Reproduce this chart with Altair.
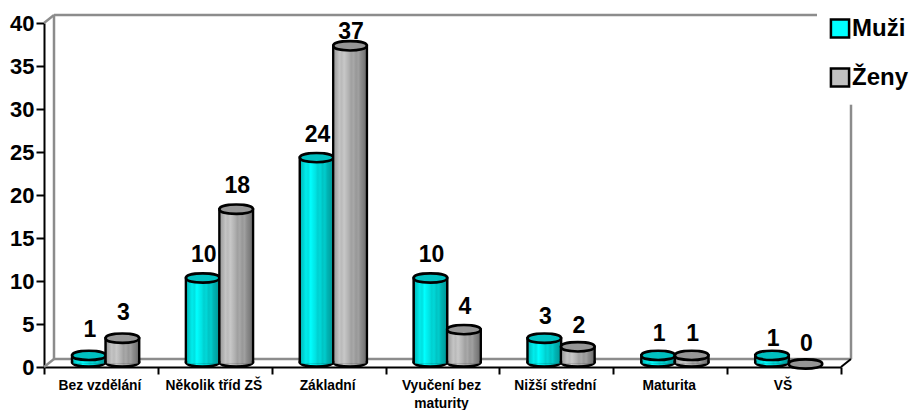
import altair as alt
import pandas as pd

categories = ["Bez vzdělání", "Několik tříd ZŠ", "Základní", "Vyučení bez maturity",
              "Nižší střední", "Maturita", "VŠ"]
muzi = [1, 10, 24, 10, 3, 1, 1]
zeny = [3, 18, 37, 4, 2, 1, 0]
series = ["Muži", "Ženy"]
legend_colors = ["#00FFFF", "#C0C0C0"]
top_colors = ["#00C0C0", "#969696"]
cyan_stops = ["#00C0C0", "#00D4D4", "#00ECEC", "#00E0E0", "#00FFFF", "#00F0F0", "#00E4E4",
              "#00D0D0", "#00D8D8", "#00C4C4", "#00CCCC", "#00B4B4", "#00A8A8", "#009C9C"]
gray_stops = ["#A0A0A0", "#B0B0B0", "#C4C4C4", "#BABABA", "#C8C8C8", "#BCBCBC", "#B0B0B0",
              "#A0A0A0", "#A8A8A8", "#989898", "#A0A0A0", "#8C8C8C", "#808080", "#707070"]

W, H = 797, 344
df = pd.DataFrame(
    [{"cat": c, "series": "Muži", "v": m} for c, m in zip(categories, muzi)]
    + [{"cat": c, "series": "Ženy", "v": z} for c, z in zip(categories, zeny)]
)


def grad(cols):
    n = len(cols) - 1
    return alt.Gradient(
        gradient="linear", x1=0, x2=1, y1=0, y2=0,
        stops=[alt.GradientStop(offset=i / n, color=c) for i, c in enumerate(cols)],
    )


ELLIPSE = "M-1,0 C-1,-0.37 1,-0.37 1,0 C1,0.37 -1,0.37 -1,0 Z"
ESIZE = 33.5 ** 2
TOP = -3
BASE = -5
STROKE = 2.6

yscale = alt.Scale(domain=[0, 40], nice=False, zero=False)
y_axis = alt.Axis(
    values=list(range(0, 41, 5)), labelFontSize=22, labelFont="Liberation Sans",
    labelFontWeight="bold", labelColor="#000000", tickColor="#000000", domainColor="#000000",
    domainWidth=2, tickWidth=2, tickSize=8, labelPadding=2, grid=False,
)
x_enc = alt.X(
    "cat:N", sort=categories, title=None,
    scale=alt.Scale(paddingInner=0, paddingOuter=0),
    axis=alt.Axis(
        tickBand="extent", labelAngle=0, labelFontSize=13.8, labelFont="Liberation Sans",
        labelFontWeight="bold", labelColor="#000000", tickColor="#000000", domainColor="#000000",
        domainWidth=2, tickWidth=2, tickSize=7, labelPadding=4, grid=False, labelLimit=200,
        labelLineHeight=18, labelOffset=-1.5,
        labelExpr="datum.value == 'Vyučení bez maturity' ? ['Vyučení bez', 'maturity'] : datum.label",
    ),
)
off_enc = alt.XOffset(
    "series:N", sort=series,
    scale=alt.Scale(domain=series, paddingInner=0, paddingOuter=0.7, align=0.6),
)
y_enc = alt.Y("v:Q", title=None, scale=yscale, axis=y_axis)

base = alt.Chart(df).transform_calculate(b="0")
layers = []

# back wall
WALL = "#8C8C8C"
WS = 2.5
wall = alt.Chart(pd.DataFrame({"top": [40], "bot": [0], "top3d": [40.93], "bot3d": [0.93], "cut": [30.5]}))
y_top = alt.Y("top:Q", title=None, scale=yscale, axis=y_axis)
y_bot = alt.Y("bot:Q", title=None, scale=yscale, axis=y_axis)
y_top3d = alt.Y("top3d:Q", title=None, scale=yscale, axis=y_axis)
y_cut = alt.Y("cut:Q", title=None, scale=yscale, axis=y_axis)
layers += [
    wall.mark_rule(color=WALL, strokeWidth=WS, yOffset=-8).encode(
        x=alt.value(10), x2=alt.value(773), y=y_top),
    wall.mark_rule(color=WALL, strokeWidth=WS, yOffset=-8).encode(
        x=alt.value(10), x2=alt.value(W + 10), y=y_bot),
    wall.mark_rule(color=WALL, strokeWidth=WS).encode(
        x=alt.value(10), y=y_top3d, y2="bot3d:Q"),
    wall.mark_rule(color=WALL, strokeWidth=WS).encode(
        x=alt.value(W + 10), y=y_cut, y2="bot3d:Q"),
    wall.mark_rule(color=WALL, strokeWidth=WS).encode(
        x=alt.value(0), x2=alt.value(10), y=y_bot, y2="bot3d:Q"),
    wall.mark_rule(color=WALL, strokeWidth=WS).encode(
        x=alt.value(0), x2=alt.value(10), y=y_top, y2="top3d:Q"),
    wall.mark_rule(color="#000000", strokeWidth=2).encode(
        x=alt.value(W), x2=alt.value(W + 10), y=y_bot, y2="bot3d:Q"),
]

# cylinders
for s, stops, tc in zip(series, [cyan_stops, gray_stops], top_colors):
    g = grad(stops)
    flt = f"datum.series == '{s}'"
    d = base.transform_filter(flt)
    tall = d.transform_filter("datum.v > 0")
    layers += [
        tall.mark_point(
            shape=ELLIPSE, size=ESIZE, filled=True, fill=g, stroke="#000000",
            strokeWidth=STROKE, opacity=1, yOffset=BASE).encode(
            x=x_enc, xOffset=off_enc, y=alt.Y("b:Q", title=None, scale=yscale, axis=y_axis)
        ),
        tall.mark_bar(fill=g, stroke="#000000", strokeWidth=STROKE, width=33.5,
                      yOffset=TOP, y2Offset=BASE).encode(
            x=x_enc, xOffset=off_enc, y=y_enc, y2="b:Q"),
        tall.mark_bar(fill=g, width=31, yOffset=TOP, y2Offset=BASE + 1.5).encode(
            x=x_enc, xOffset=off_enc, y=y_enc, y2="b:Q"),
        d.mark_point(shape=ELLIPSE, size=ESIZE, filled=True, fill=tc, stroke="#000000",
                     strokeWidth=STROKE, opacity=1, yOffset=TOP).encode(
            x=x_enc, xOffset=off_enc, y=y_enc),
    ]

# value labels
def labels(expr, dy):
    return base.transform_filter(expr).mark_text(
        font="Liberation Sans", fontWeight="bold", fontSize=23, color="#000000",
        baseline="middle", dy=dy, dx=1,
    ).encode(x=x_enc, xOffset=off_enc, y=y_enc, text="v:Q")

layers += [
    labels("datum.v == 37", -17),
    labels("datum.v > 3 && datum.v < 37", -26),
    labels("datum.cat == 'Bez vzdělání'", -28),
    labels("datum.v <= 3 && datum.cat != 'Bez vzdělání' && datum.cat != 'VŠ'", -24),
    labels("datum.cat == 'VŠ' && datum.v == 1", -19),
    labels("datum.cat == 'VŠ' && datum.v == 0", -23),
]

# legend
layers.append(
    base.mark_point(filled=True, size=0, opacity=1).encode(
        x=x_enc, xOffset=off_enc, y=y_enc,
        fill=alt.Fill(
            "series:N",
            scale=alt.Scale(domain=series, range=legend_colors),
            legend=alt.Legend(
                orient="none", legendX=784, legendY=-6.5, title=None, padding=0,
                symbolType="square", symbolSize=330, symbolStrokeColor="#000000",
                symbolStrokeWidth=2.5, symbolOpacity=1, labelFontSize=24,
                labelFont="Liberation Sans", labelFontWeight="bold", labelColor="#000000",
                rowPadding=19, labelOffset=0, labelLimit=120,
            ),
        ),
    )
)

chart = alt.layer(*layers).properties(
    width=W, height=H,
    padding={"left": 36, "top": 15, "right": 69, "bottom": 43},
    autosize=alt.AutoSizeParams(type="none"),
).configure_view(stroke=None)

chart.save("out.html", embed_options={"renderer": "svg", "actions": False})
